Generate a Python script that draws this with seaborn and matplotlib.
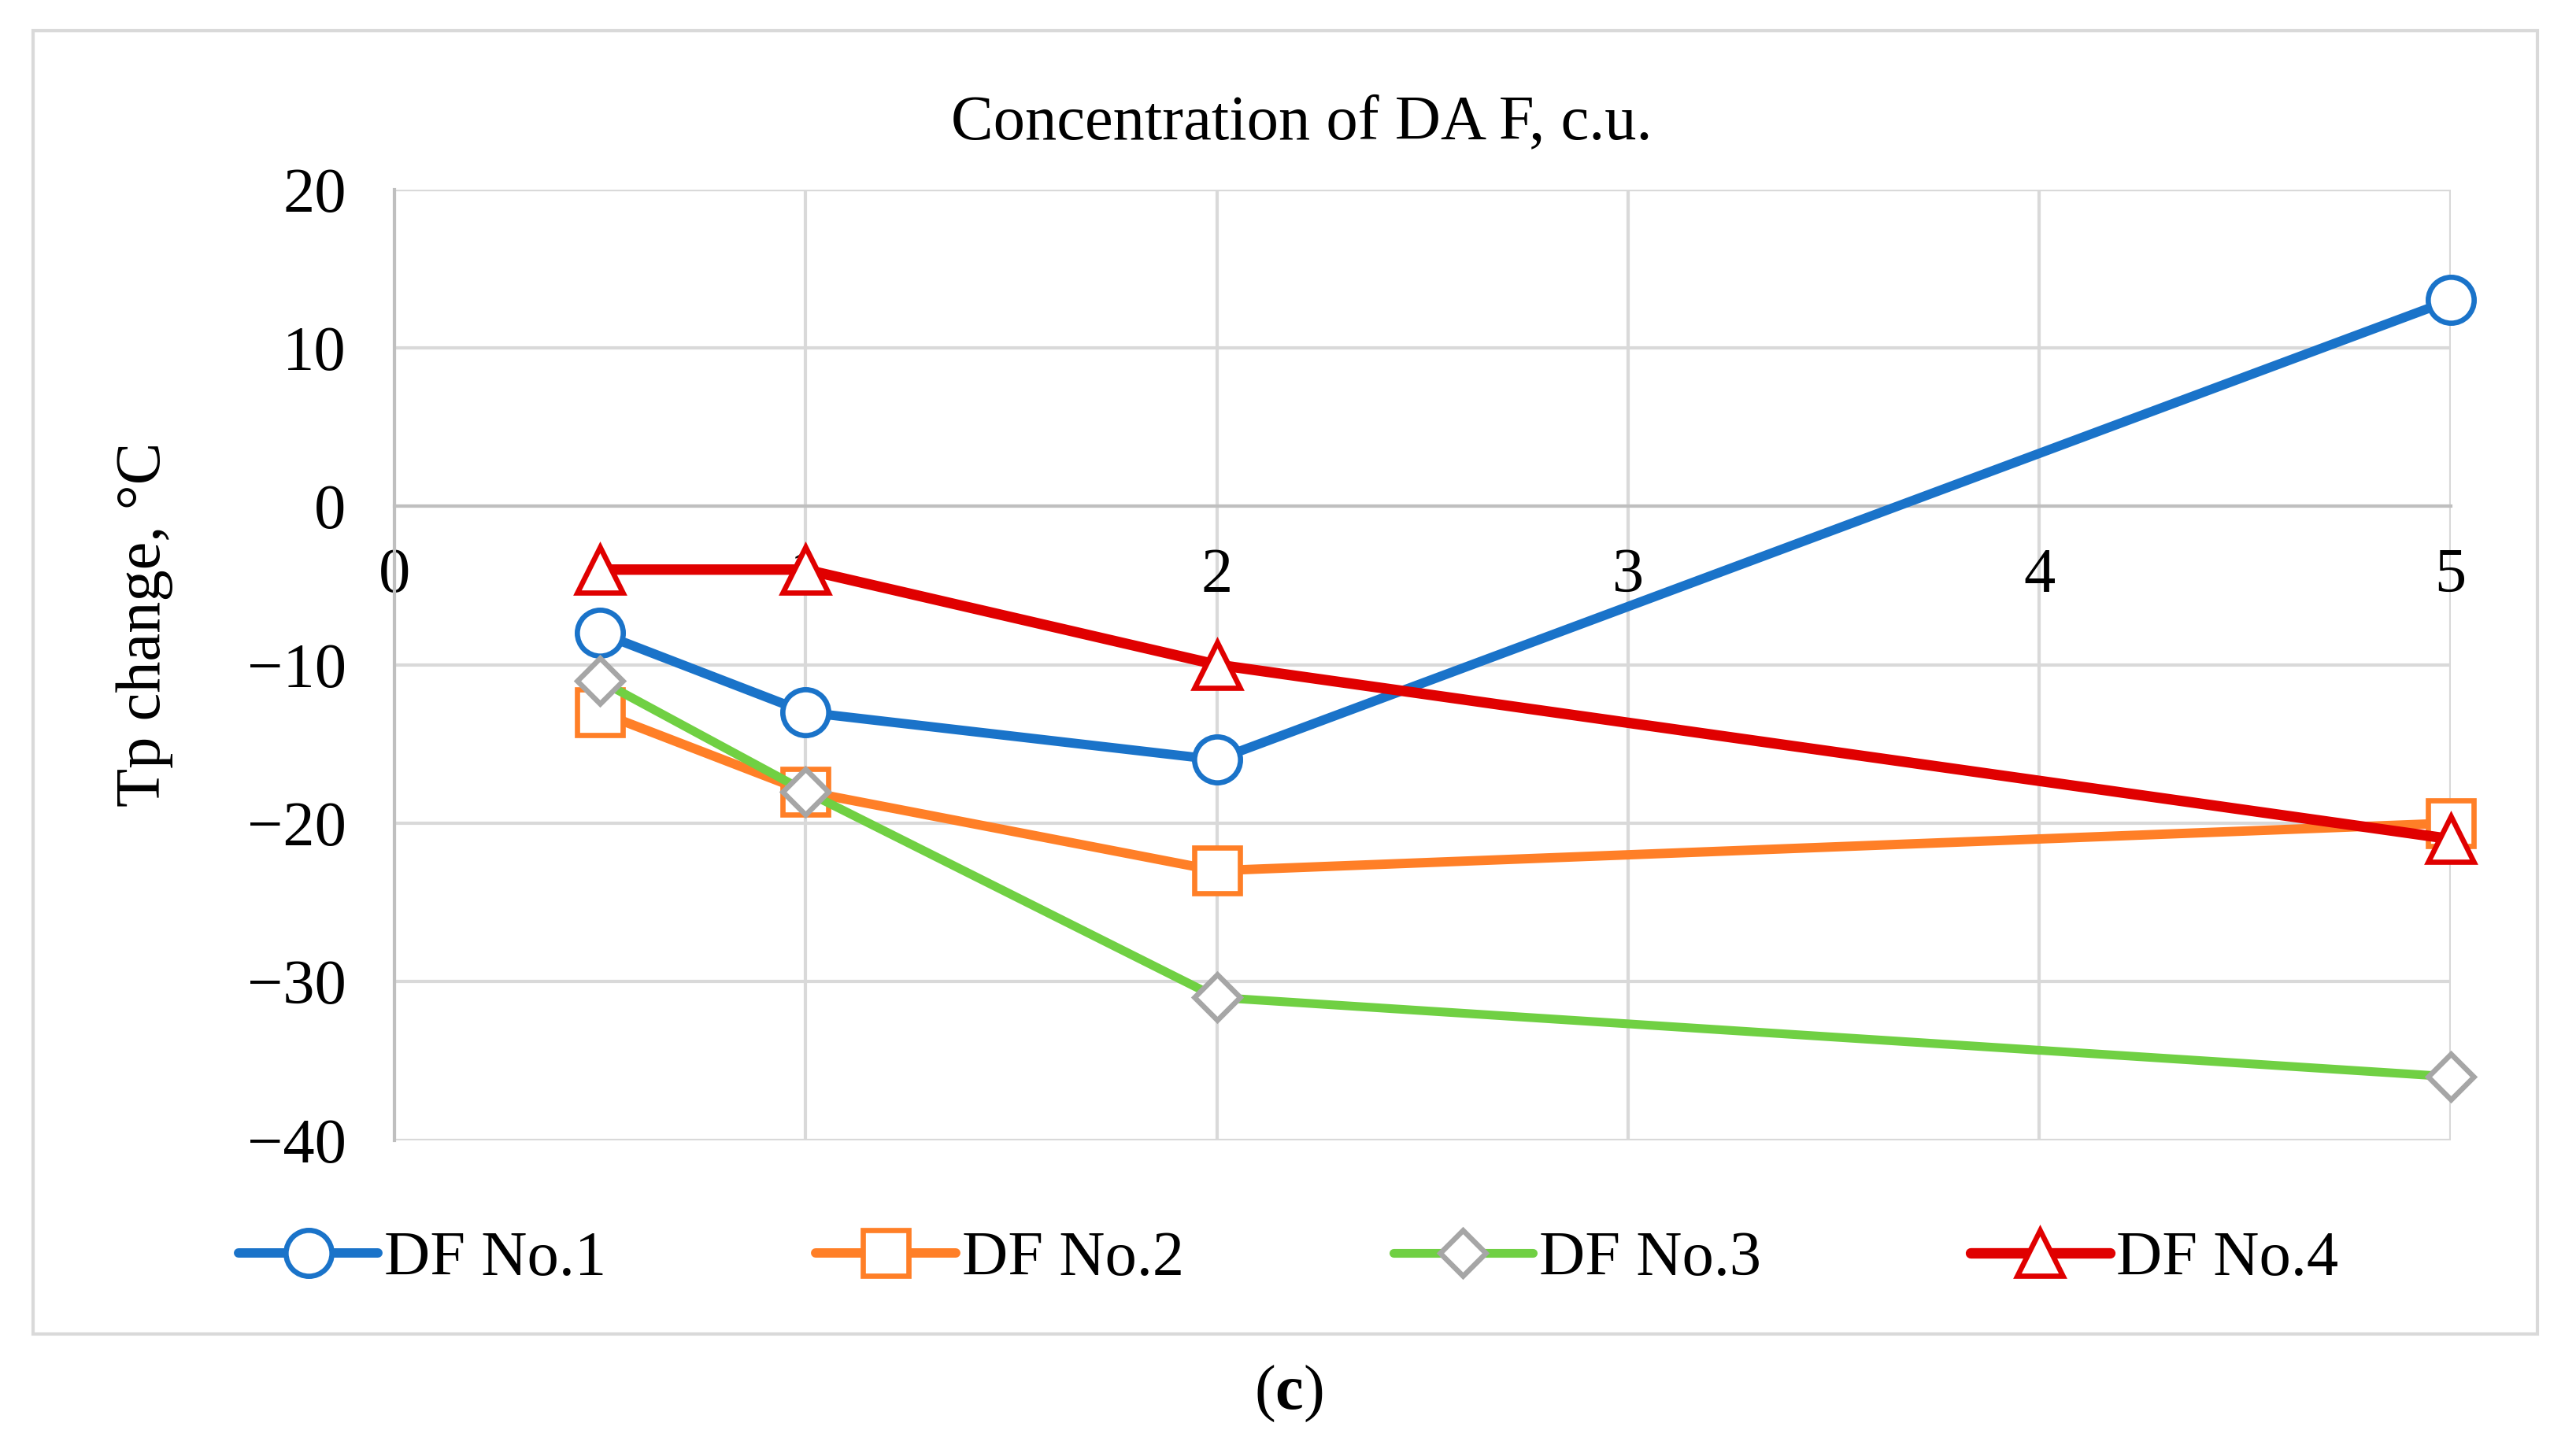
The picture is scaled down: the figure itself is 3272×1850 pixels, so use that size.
import matplotlib
matplotlib.use("Agg")
import matplotlib.pyplot as plt
import seaborn as sns
import pandas as pd
from matplotlib.patches import Rectangle

# data
conc = [0.5, 1, 2, 5]
series_names = ["DF No.1", "DF No.2", "DF No.3", "DF No.4"]
df1 = [-8, -13, -16, 13]
df2 = [-13, -18, -23, -20]
df3 = [-11, -18, -31, -36]
df4 = [-4, -4, -10, -21]
x_ticks = [0, 1, 2, 3, 4, 5]
y_ticks = [-40, -30, -20, -10, 0, 10, 20]

line_colors = ["#1A73C9", "#FF7F27", "#70D043", "#E00000"]
edge_colors = ["#1A73C9", "#FF7F27", "#A6A6A6", "#E00000"]
markers = ["o", "s", "D", "^"]
msizes = [21, 21, 15, 21]
lwidths = [4.3, 4.3, 4.0, 4.8]

sns.set_style("white")
plt.rcParams['font.family'] = ['Liberation Serif', 'DejaVu Serif']
plt.rcParams['text.color'] = 'black'
plt.rcParams['xtick.color'] = 'black'
plt.rcParams['ytick.color'] = 'black'
plt.rcParams['mathtext.fontset'] = 'custom'
plt.rcParams['mathtext.rm'] = 'Liberation Serif'
plt.rcParams['mathtext.bf'] = 'Liberation Serif:bold'

fs = 29
fig = plt.figure(figsize=(16.365, 9.25), dpi=200)
ax = fig.add_axes([0.153, 0.217, 0.798, 0.653])

data = pd.DataFrame({"conc": conc, "DF No.1": df1, "DF No.2": df2,
                     "DF No.3": df3, "DF No.4": df4})

for i, name in enumerate(series_names):
    sns.lineplot(data=data, x="conc", y=name, ax=ax, color=line_colors[i],
                 linewidth=lwidths[i], marker=markers[i], markersize=msizes[i],
                 markerfacecolor="white", markeredgecolor=edge_colors[i],
                 markeredgewidth=2.4, label=name, zorder=3, clip_on=False)

ax.set_xlim(0, 5)
ax.set_ylim(-40, 20)
ax.set_xticks(x_ticks)
ax.set_yticks(y_ticks)
ax.grid(True, color="#D9D9D9", linewidth=1.5)
ax.set_axisbelow(True)
for s in ["top", "right"]:
    ax.spines[s].set_visible(False)
ax.spines["left"].set_color("#BFBFBF")
ax.spines["left"].set_linewidth(1.5)
ax.spines["bottom"].set_position(("data", 0))
ax.spines["bottom"].set_color("#BFBFBF")
ax.spines["bottom"].set_linewidth(1.5)
ax.tick_params(axis="x", length=0, pad=19, labelsize=fs)
ax.tick_params(axis="y", length=0, pad=22, labelsize=fs)
ax.set_xlabel("")
ax.set_ylabel("")

fig.text(0.056, 0.571, "Tp change, °C", rotation=90, ha="center", va="center", fontsize=fs)
fig.text(0.505, 0.915, "Concentration of DA F, c.u.", ha="center", va="center", fontsize=fs)
fig.text(0.500, 0.043, r"($\mathbf{c}$)", ha="center", va="center", fontsize=fs)

handles, labels = ax.get_legend_handles_labels()
ax.legend(handles, labels, loc="center", bbox_to_anchor=(0.5, 0.135),
          bbox_transform=fig.transFigure, ncol=4, frameon=False,
          fontsize=fs, handlelength=2.2, handletextpad=0.1, columnspacing=3.3)

fig.patches.append(Rectangle((0.0128, 0.0838), 0.972, 0.895, transform=fig.transFigure,
                             fill=False, edgecolor="#D9D9D9", linewidth=1.5))

fig.savefig("out.png", dpi=200)
